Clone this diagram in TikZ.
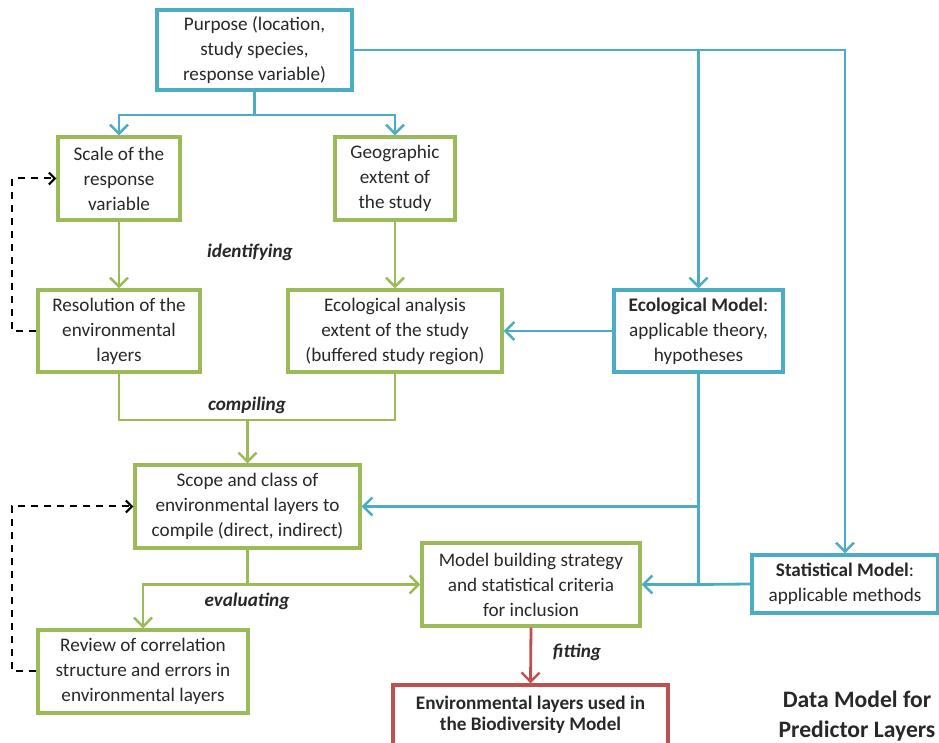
\documentclass[tikz,border=0pt]{standalone}
\usepackage{fontspec}
\setmainfont{Carlito}
\usetikzlibrary{arrows.meta,positioning,calc}
\definecolor{lineblue}{RGB}{75,172,198}
\definecolor{linegreen}{RGB}{155,187,89}
\definecolor{linered}{RGB}{192,80,77}
\definecolor{textgray}{RGB}{40,40,40}

\begin{document}
\begin{tikzpicture}[
    x=0.5pt, y=-0.5pt,
    every node/.style={font=\fontsize{9.6}{12.5}\selectfont, text=textgray},
    box/.style={draw, line width=1.7pt, align=center, inner sep=1pt},
    bluebox/.style={box, draw=lineblue},
    greenbox/.style={box, draw=linegreen},
    redbox/.style={box, draw=linered},
    tip/.style={-{Straight Barb[length=4.5pt,width=9pt,line width=1.2pt]}},
    blueline/.style={draw=lineblue, line width=1.4pt},
    greenline/.style={draw=linegreen, line width=1.4pt},
    redline/.style={draw=linered, line width=1.4pt},
    loopback/.style={draw=black, line width=1pt, dash pattern=on 3.5pt off 3pt, -{Straight Barb[length=3pt,width=6pt]}},
    step label/.style={font=\fontsize{9.6}{12}\selectfont\bfseries\itshape}
  ]
    \useasboundingbox (0,0) rectangle (939,743);

    \node[bluebox, minimum width=97.5pt, minimum height=40pt] (purpose) at (254.5,50) {Purpose (location,\\study species,\\response variable)};
    \node[greenbox, minimum width=61pt, minimum height=41.5pt] (scale) at (119,178.5) {Scale of the\\response\\variable};
    \node[greenbox, minimum width=60pt, minimum height=41.5pt] (geo) at (395,178.5) {Geographic\\extent of\\the study};
    \node[greenbox, minimum width=81pt, minimum height=41pt] (resol) at (119,331) {Resolution of the\\environmental\\layers};
    \node[greenbox, minimum width=107pt, minimum height=41pt] (ecoext) at (395,331) {Ecological analysis\\extent of the study\\(buffered study region)};
    \node[bluebox, minimum width=84.5pt, minimum height=41pt] (ecomod) at (698.5,331) {\textbf{Ecological Model}:\\applicable theory,\\hypotheses};
    \node[greenbox, minimum width=112.5pt, minimum height=41.5pt] (scope) at (247.5,506.5) {Scope and class of\\environmental layers to\\compile (direct, indirect)};
    \node[greenbox, minimum width=109pt, minimum height=41.5pt] (build) at (531,584.5) {Model building strategy\\and statistical criteria\\for inclusion};
    \node[bluebox, minimum width=93pt, minimum height=29pt] (stat) at (845,584) {\textbf{Statistical Model}:\\applicable methods};
    \node[greenbox, minimum width=105pt, minimum height=41.5pt] (review) at (143,671.5) {Review of correlation\\structure and errors in\\environmental layers};
    \node[redbox, minimum width=137.5pt, minimum height=30pt, font=\fontsize{9.6}{10.5}\selectfont\bfseries] (envlay) at (530.5,715) {Environmental layers used in\\the Biodiversity Model};
    \node[font=\fontsize{11.8}{15}\selectfont\bfseries, align=center] (title) at (857,716) {Data Model for\\Predictor Layers};

    \node[step label] (identify) at (250,252) {identifying};
    \node[step label] (compile) at (247,405) {compiling};
    \node[step label] (evaluate) at (247,601) {evaluating};
    \node[step label] (fit) at (577,652) {fitting};

    \coordinate (split) at (254.5,115);
    \coordinate (cmp) at (247.5,420);
    \coordinate (evl) at (247.5,584.5);

    \draw[blueline] (purpose.south) -- (split);
    \draw[blueline, tip] (split) -| (scale.north);
    \draw[blueline, tip] (split) -| (geo.north);
    \draw[blueline, tip] (purpose.east) -| (stat.north);
    \draw[blueline, tip] (purpose.east -| ecomod.north) -- (ecomod.north);
    \draw[blueline, tip] (ecomod.west) -- (ecoext.east);
    \draw[blueline, tip] (ecomod.south) |- (scope.east);
    \draw[blueline, tip] (ecomod.south) |- (build.east);
    \draw[blueline] (stat.west) -- (build.east -| ecomod.south);

    \draw[greenline, tip] (scale) -- (resol);
    \draw[greenline, tip] (geo) -- (ecoext);
    \draw[greenline] (resol.south) |- (cmp) -| (ecoext.south);
    \draw[greenline, tip] (cmp) -- (scope.north);
    \draw[greenline] (scope.south) -- (evl);
    \draw[greenline, tip] (evl) -| (review.north);
    \draw[greenline, tip] (evl) -- (build.west);

    \draw[redline, tip] (build.south) -- (envlay.north);

    \draw[loopback] (resol.west) -- ++(-24,0) |- (scale.west);
    \draw[loopback] (review.west) -- ++(-24,0) |- (scope.west);
  \end{tikzpicture}
\end{document}
